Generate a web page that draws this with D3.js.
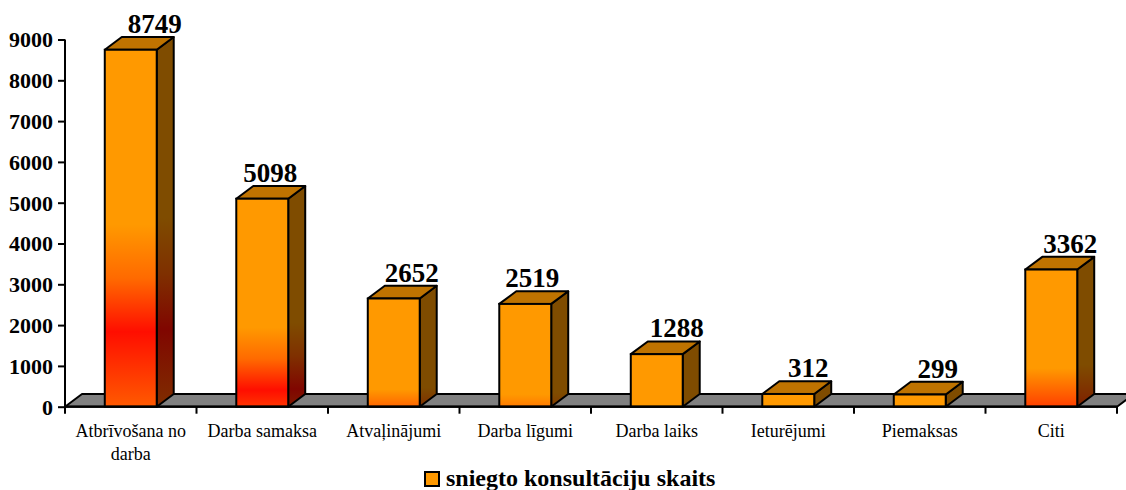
<!DOCTYPE html>
<html>
<head>
<meta charset="utf-8">
<script src="https://cdn.jsdelivr.net/npm/d3@7/dist/d3.min.js"></script>
<style>
  html, body { margin: 0; padding: 0; background: #fff; }
  svg { display: block; font-family: "Liberation Serif", "Times New Roman", serif; }
</style>
</head>
<body>
<svg id="chart" width="1126" height="490"></svg>
<script>
// ---- data ----
const categories = ["Atbrīvošana no darba", "Darba samaksa", "Atvaļinājumi", "Darba līgumi",
                    "Darba laiks", "Ieturējumi", "Piemaksas", "Citi"];
const values = [8749, 5098, 2652, 2519, 1288, 312, 299, 3362];
const yTicks = [0, 1000, 2000, 3000, 4000, 5000, 6000, 7000, 8000, 9000];
const seriesName = "sniegto konsultāciju skaits";

// ---- styles ----
const ORANGE = "#FF9900", TOP = "#BF7300";
// gradient stops per bar (offset from top, front colour, side colour)
const gradStyles = [
  [[0, "#FF9900", "#7F4C00"], [0.49, "#FF9900", "#7F4C00"], [0.64, "#FF6A00", "#7F3000"], [0.79, "#FF0E00", "#800600"], [1, "#FF5A00", "#7F2E00"]],
  [[0, "#FF9900", "#7F4C00"], [0.62, "#FF9900", "#7F4C00"], [0.77, "#FF6A00", "#7F3000"], [0.92, "#FF0E00", "#800600"], [1, "#FF3400", "#7F1A00"]],
  [[0, "#FF9900", "#7F4C00"], [0.84, "#FF9900", "#7F4C00"], [1, "#FF6600", "#7F3000"]],
  [[0, "#FF9900", "#7F4C00"], [0.88, "#FF9900", "#7F4C00"], [1, "#FF7A00", "#7F3A00"]],
  [[0, "#FF9900", "#7F4C00"], [1, "#FF9900", "#7F4C00"]],
  [[0, "#FF9900", "#7F4C00"], [1, "#FF9900", "#7F4C00"]],
  [[0, "#FF9900", "#7F4C00"], [1, "#FF9900", "#7F4C00"]],
  [[0, "#FF9900", "#7F4C00"], [0.72, "#FF9900", "#7F4C00"], [1, "#FF4000", "#7F2000"]]
];
const labelDx = [24, 8, 18, 7, 20, 20, 18, 19];

const svg = d3.select("#chart");
const left = 65, right = 1117, base = 406.7, topY = 39.5;
const DX = 17, DY = -12.7;

const x = d3.scaleBand().domain(categories).range([left, right]).paddingInner(0).paddingOuter(0);
const y = d3.scaleLinear().domain([0, 9000]).range([base, topY]);
const barW = x.bandwidth() * 0.395;

// gradients
const defs = svg.append("defs");
values.forEach((v, i) => {
  ["f", "s"].forEach((kind, k) => {
    const g = defs.append("linearGradient").attr("id", `g${kind}${i}`)
      .attr("x1", 0).attr("y1", 0).attr("x2", 0).attr("y2", 1);
    gradStyles[i].forEach(s => g.append("stop").attr("offset", s[0]).attr("stop-color", s[1 + k]));
  });
});

// floor
const floorPts = [[left, base], [right, base], [right + DX, base + DY], [left + DX, base + DY]];
svg.append("polygon").attr("points", floorPts.map(p => p.join(",")).join(" "))
  .attr("fill", "#808080").attr("stroke", "#000").attr("stroke-width", 2).attr("stroke-linejoin", "round");

// y axis
const yAxis = d3.axisLeft(y).tickValues(yTicks).tickSize(7).tickPadding(5).tickFormat(d3.format("d"));
const gy = svg.append("g").attr("transform", `translate(${left},0)`).call(yAxis);
gy.select(".domain").attr("stroke", "#000").attr("stroke-width", 2).attr("d", `M0,${base}V${topY}`);
gy.selectAll(".tick line").attr("stroke", "#000").attr("stroke-width", 2);
gy.selectAll(".tick text").attr("fill", "#000").style("font-family", "Liberation Serif")
  .style("font-size", "22px").style("font-weight", "bold").attr("dy", "0.34em");

// x axis (labels centred, ticks on band boundaries)
const xAxis = d3.axisBottom(x).tickSize(0).tickPadding(18);
const gx = svg.append("g").attr("transform", `translate(0,${base})`).call(xAxis);
gx.select(".domain").remove();
gx.selectAll(".tick text").attr("fill", "#000").style("font-family", "Liberation Serif")
  .style("font-size", "18px").each(function(d) {
    const t = d3.select(this);
    const words = d.split(" ");
    const lines = [];
    let cur = "";
    const maxW = x.bandwidth() - 10;
    t.text(null);
    const probe = t.append("tspan");
    words.forEach(w => {
      const test = cur ? cur + " " + w : w;
      probe.text(test);
      if (probe.node().getComputedTextLength() > maxW && cur) { lines.push(cur); cur = w; }
      else cur = test;
    });
    lines.push(cur);
    probe.remove();
    lines.forEach((ln, li) => t.append("tspan").attr("x", 0).attr("dy", li === 0 ? "0.71em" : "1.25em").text(ln));
  });
const bounds = categories.map(c => x(c)).concat([right]);
svg.append("g").selectAll("line").data(bounds).join("line")
  .attr("x1", d => d).attr("x2", d => d).attr("y1", base).attr("y2", base + 7)
  .attr("stroke", "#000").attr("stroke-width", 2);

// bars
const bars = svg.append("g").selectAll("g").data(values).join("g");
bars.each(function(v, i) {
  const g = d3.select(this);
  const cx = x(categories[i]) + x.bandwidth() / 2;
  const x0 = cx - barW / 2, x1 = cx + barW / 2;
  const yt = y(v), yb = y(0);
  g.append("polygon").attr("points", [[x1, yb], [x1 + DX, yb + DY], [x1 + DX, yt + DY], [x1, yt]].map(p => p.join(",")).join(" "))
    .attr("fill", `url(#gs${i})`).attr("stroke", "#000").attr("stroke-width", 2).attr("stroke-linejoin", "round");
  g.append("polygon").attr("points", [[x0, yt], [x1, yt], [x1 + DX, yt + DY], [x0 + DX, yt + DY]].map(p => p.join(",")).join(" "))
    .attr("fill", TOP).attr("stroke", "#000").attr("stroke-width", 2).attr("stroke-linejoin", "round");
  g.append("rect").attr("x", x0).attr("y", yt).attr("width", barW).attr("height", yb - yt)
    .attr("fill", `url(#gf${i})`).attr("stroke", "#000").attr("stroke-width", 2);
  g.append("text").attr("x", cx + labelDx[i]).attr("y", yt + DY - 4)
    .attr("text-anchor", "middle").style("font-size", "27px").style("font-weight", "bold")
    .attr("fill", "#000").text(v);
});
svg.append("line").attr("x1", left).attr("x2", right).attr("y1", base).attr("y2", base)
  .attr("stroke", "#000").attr("stroke-width", 2.2);

// legend
const lg = svg.append("g");
lg.append("rect").attr("x", 425).attr("y", 472).attr("width", 14).attr("height", 14)
  .attr("fill", ORANGE).attr("stroke", "#000").attr("stroke-width", 2);
lg.append("text").attr("x", 446).attr("y", 486).style("font-size", "24px").style("font-weight", "bold")
  .attr("fill", "#000").text(seriesName);
</script>
</body>
</html>
